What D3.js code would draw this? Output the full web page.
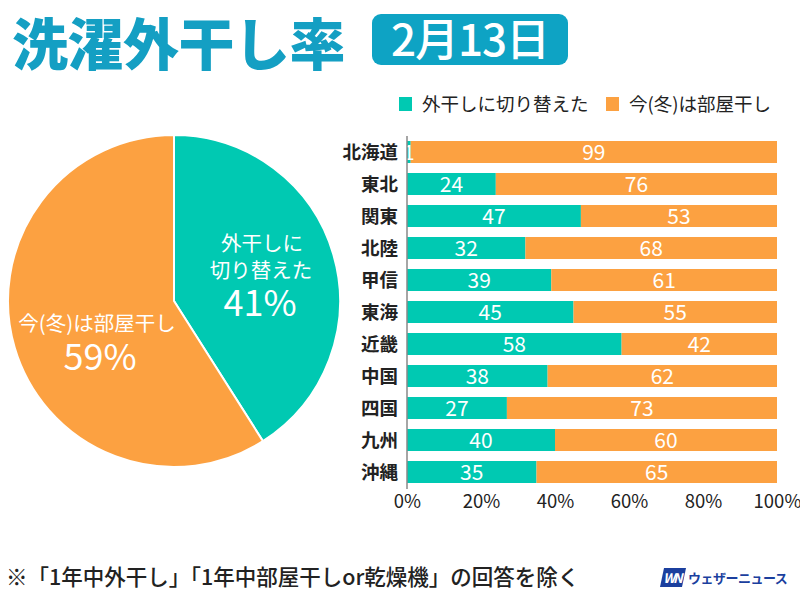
<!DOCTYPE html>
<html><head><meta charset="utf-8">
<script src="https://cdn.jsdelivr.net/npm/d3@7"></script>
<style>body{margin:0;background:#fff}svg{display:block;font-family:"Noto Sans CJK JP","Noto Sans",sans-serif}</style>
</head><body>
<svg id="c" width="800" height="600"></svg>
<script>
const regions = ["北海道","東北","関東","北陸","甲信","東海","近畿","中国","四国","九州","沖縄"];
const outdoor = [1,24,47,32,39,45,58,38,27,40,35];
const indoor = [99,76,53,68,61,55,42,62,73,60,65];
const seriesNames = ["外干しに切り替えた","今(冬)は部屋干し"];
const pieValues = [41,59];
const ticks = [0,20,40,60,80,100];
const colors = ["#00c9b2","#fca141"];

const svg = d3.select("#c");
// title
svg.append("text").attr("x",12).attr("y",65).attr("font-size",56).attr("font-weight",900)
  .attr("fill","#149fc3").attr("letter-spacing",-0.5).text("洗濯外干し率");
svg.append("rect").attr("x",372).attr("y",14).attr("width",196).attr("height",51).attr("rx",9).attr("fill","#0ea3c4");
svg.append("text").attr("x",470).attr("y",56).attr("text-anchor","middle").attr("font-size",44).attr("font-weight",500)
  .attr("fill","#fff").attr("letter-spacing",-1).text("2月13日");

// pie
const cx=174, cy=301, R=166;
const pie = d3.pie().sort(null).value(d=>d);
const arc = d3.arc().innerRadius(0).outerRadius(R);
const pg = svg.append("g").attr("transform",`translate(${cx},${cy})`);
pg.selectAll("path").data(pie(pieValues)).join("path").attr("d",arc)
  .attr("fill",(d,i)=>colors[i]).attr("stroke","#fff").attr("stroke-width",2);
const pl = svg.append("g").attr("fill","#fff").attr("text-anchor","middle");
const t1 = pl.append("text").attr("y",251).attr("font-size",20.5);
t1.append("tspan").attr("x",262).text(seriesNames[0].slice(0,4));
t1.append("tspan").attr("x",261).attr("dy",27).text(seriesNames[0].slice(4));
t1.append("tspan").attr("x",260).attr("dy",38).attr("font-size",36).text(pieValues[0]+"%");
const t2 = pl.append("text").attr("y",331).attr("font-size",20.5);
t2.append("tspan").attr("x",97).text(seriesNames[1]);
t2.append("tspan").attr("x",100).attr("dy",39).attr("font-size",36).text(pieValues[1]+"%");

// bars
const x = d3.scaleLinear().domain([0,100]).range([407,777]);
const y = d3.scaleBand().domain(regions).range([136,488]).paddingInner(0.3125).paddingOuter(0.15625);
const bg = svg.append("g");
regions.forEach((r,i)=>{
  const g = bg.append("g");
  g.append("rect").attr("x",x(0)).attr("y",y(r)).attr("width",x(outdoor[i])-x(0)).attr("height",y.bandwidth()).attr("fill",colors[0]);
  g.append("rect").attr("x",x(outdoor[i])).attr("y",y(r)).attr("width",x(100)-x(outdoor[i])).attr("height",y.bandwidth()).attr("fill",colors[1]);
  const yc = y(r)+y.bandwidth()/2+7.5;
  g.append("text").attr("x",(x(0)+x(outdoor[i]))/2).attr("y",yc).attr("text-anchor","middle").attr("fill","#fff").attr("font-size",21).text(outdoor[i]);
  g.append("text").attr("x",(x(outdoor[i])+x(100))/2).attr("y",yc).attr("text-anchor","middle").attr("fill","#fff").attr("font-size",21).text(indoor[i]);
  g.append("text").attr("x",398).attr("y",yc-1).attr("text-anchor","end").attr("fill","#222").attr("font-size",18.5).attr("font-weight",700).text(r);
});
svg.append("line").attr("x1",x(0)).attr("x2",x(0)).attr("y1",136).attr("y2",489).attr("stroke","#888").attr("stroke-width",1.5);
const ax = svg.append("g").attr("transform","translate(0,489)")
  .call(d3.axisBottom(x).tickValues(ticks).tickFormat(d=>d+"%").tickSize(0).tickPadding(6));
ax.select(".domain").remove();
ax.selectAll("text").attr("font-size",18.5).attr("fill","#222").attr("font-family","'Noto Sans CJK JP',sans-serif");

// legend
const lg = svg.append("g");
lg.append("rect").attr("x",399).attr("y",97).attr("width",13).attr("height",14).attr("fill",colors[0]);
lg.append("text").attr("x",422).attr("y",111).attr("font-size",18.5).attr("fill","#222").text(seriesNames[0]);
lg.append("rect").attr("x",606).attr("y",97).attr("width",13).attr("height",14).attr("fill",colors[1]);
lg.append("text").attr("x",629).attr("y",111).attr("font-size",18.5).attr("fill","#222").text(seriesNames[1]);

// footnote
svg.append("text").attr("x",6).attr("y",585).attr("font-size",21.5).attr("fill","#222").attr("font-weight",500)
  .text("※「1年中外干し」「1年中部屋干しor乾燥機」の回答を除く");
// logo
svg.append("path").attr("d","M664,568 L686,568 L682,587 L660,587 Z").attr("fill","#1b3f9e");
svg.append("text").attr("x",672).attr("y",583).attr("text-anchor","middle").attr("font-size",13).attr("font-weight",700)
  .attr("font-style","italic").attr("fill","#fff").attr("letter-spacing",-2).text("WN");
svg.append("text").attr("x",688).attr("y",583).attr("font-size",13).attr("font-weight",700).attr("fill","#1b3f9e").attr("letter-spacing",-0.5).text("ウェザーニュース");
</script>
</body></html>
